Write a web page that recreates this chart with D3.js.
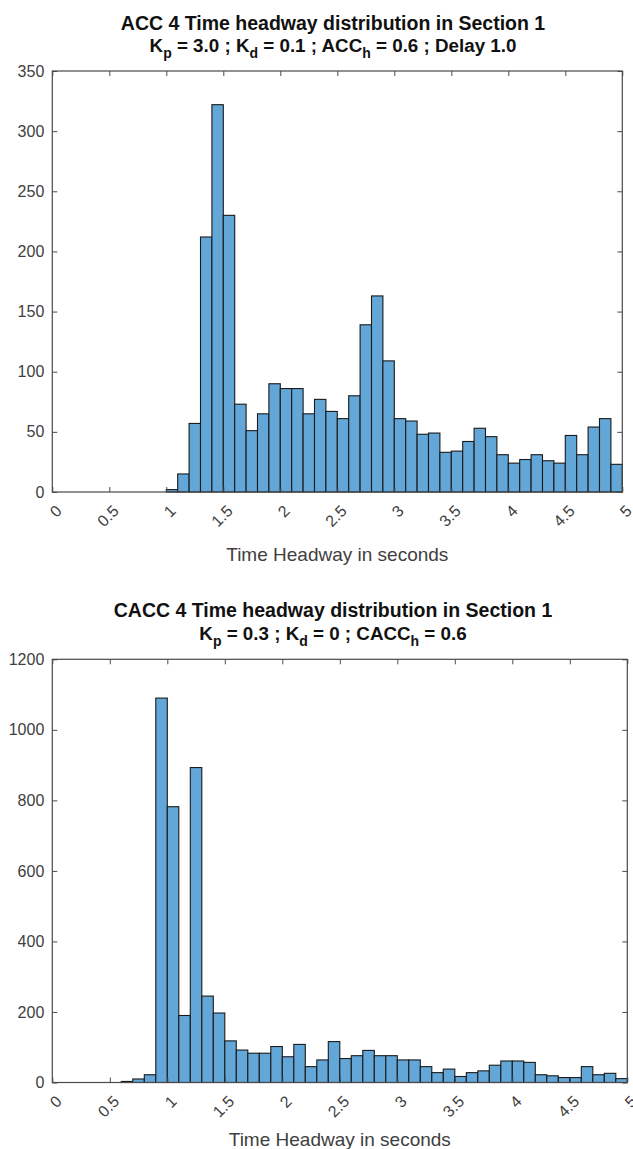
<!DOCTYPE html>
<html>
<head>
<meta charset="utf-8">
<script src="https://cdn.jsdelivr.net/npm/d3@7"></script>
<style>
  html, body { margin: 0; padding: 0; background: #fff; }
  svg { display: block; font-family: "Liberation Sans", Arial, Helvetica, sans-serif; }
</style>
</head>
<body>
<svg id="chart" width="633" height="1149"></svg>
<script>
// ---------- data ----------
const accBinLefts = [1.0,1.1,1.2,1.3,1.4,1.5,1.6,1.7,1.8,1.9,2.0,2.1,2.2,2.3,2.4,2.5,2.6,2.7,2.8,2.9,
                     3.0,3.1,3.2,3.3,3.4,3.5,3.6,3.7,3.8,3.9,4.0,4.1,4.2,4.3,4.4,4.5,4.6,4.7,4.8,4.9];
const accCounts   = [2,15,57,212,322,230,73,51,65,90,86,86,65,77,67,61,80,139,163,109,
                     61,59,48,49,33,34,42,53,46,31,24,27,31,26,24,47,31,54,61,23];

const caccBinLefts = [0.5,0.6,0.7,0.8,0.9,1.0,1.1,1.2,1.3,1.4,1.5,1.6,1.7,1.8,1.9,2.0,2.1,2.2,2.3,2.4,
                      2.5,2.6,2.7,2.8,2.9,3.0,3.1,3.2,3.3,3.4,3.5,3.6,3.7,3.8,3.9,4.0,4.1,4.2,4.3,4.4,
                      4.5,4.6,4.7,4.8,4.9];
const caccCounts   = [0,3,10,22,1090,782,190,893,245,197,118,92,83,83,102,73,108,45,64,116,
                      68,76,91,76,76,64,64,45,28,38,17,28,33,49,61,61,57,22,19,14,
                      14,45,22,26,11];
const binWidth = 0.1;

const xTicks = [0,0.5,1,1.5,2,2.5,3,3.5,4,4.5,5];
const xTickLabels = ["0","0.5","1","1.5","2","2.5","3","3.5","4","4.5","5"];
const accYTicks = [0,50,100,150,200,250,300,350];
const caccYTicks = [0,200,400,600,800,1000,1200];
const xLabel = "Time Headway in seconds";

const accTitle1 = "ACC 4 Time headway distribution in Section 1";
const accTitle2 = [["K",""],["p","sub"],[" = 3.0 ; K",""],["d","sub"],[" = 0.1 ; ACC",""],["h","sub"],[" = 0.6 ; Delay 1.0",""]];
const caccTitle1 = "CACC 4 Time headway distribution in Section 1";
const caccTitle2 = [["K",""],["p","sub"],[" = 0.3 ; K",""],["d","sub"],[" = 0 ; CACC",""],["h","sub"],[" = 0.6",""]];

// ---------- drawing ----------
const svg = d3.select("#chart");
const BAR_FILL = "#62a7d8";
const AXIS_COLOR = "#4a4a4a";
const TEXT_COLOR = "#404040";

function drawHist(cfg) {
  const g = svg.append("g");
  const x = d3.scaleLinear().domain([0, 5]).range([cfg.left, cfg.right]);
  const y = d3.scaleLinear().domain([0, cfg.yMax]).range([cfg.bottom, cfg.top]);

  // bars
  g.append("g").selectAll("rect")
    .data(cfg.lefts.map((l, i) => ({l, c: cfg.counts[i]})))
    .join("rect")
    .attr("x", d => x(d.l))
    .attr("width", d => x(d.l + binWidth) - x(d.l))
    .attr("y", d => y(d.c))
    .attr("height", d => y(0) - y(d.c))
    .attr("fill", BAR_FILL)
    .attr("stroke", "#1a1a1a")
    .attr("stroke-width", 1.1);

  // axes
  const fmt = (d) => xTickLabels[xTicks.indexOf(d)];
  const xb = g.append("g").attr("transform", `translate(0,${cfg.bottom})`)
    .call(d3.axisBottom(x).tickValues(xTicks).tickFormat(fmt).tickSizeInner(-5).tickSizeOuter(0));
  xb.selectAll(".tick text")
    .attr("x", 6).attr("y", 16).attr("dy", "0.35em")
    .attr("text-anchor", "end")
    .attr("transform", "rotate(-45,6,16)");

  const xt = g.append("g").attr("transform", `translate(0,${cfg.top})`)
    .call(d3.axisTop(x).tickValues(xTicks).tickFormat("").tickSizeInner(-5).tickSizeOuter(0));

  const yl = g.append("g").attr("transform", `translate(${cfg.left},0)`)
    .call(d3.axisLeft(y).tickValues(cfg.yTicks).tickFormat(d3.format("d")).tickSizeInner(-5).tickSizeOuter(0).tickPadding(8));
  const yr = g.append("g").attr("transform", `translate(${cfg.right},0)`)
    .call(d3.axisRight(y).tickValues(cfg.yTicks).tickFormat("").tickSizeInner(-5).tickSizeOuter(0));

  [xb, xt, yl, yr].forEach(a => {
    a.select(".domain").remove();
    a.selectAll(".tick line").attr("stroke", AXIS_COLOR).attr("stroke-width", 1);
    a.selectAll(".tick text").attr("fill", TEXT_COLOR).style("font-size", "16px")
      .style("font-family", '"Liberation Sans", Arial, sans-serif');
  });

  // box
  g.append("rect")
    .attr("x", cfg.left).attr("y", cfg.top)
    .attr("width", cfg.right - cfg.left).attr("height", cfg.bottom - cfg.top)
    .attr("fill", "none").attr("stroke", AXIS_COLOR).attr("stroke-width", 1.2);

  // x label
  g.append("text")
    .attr("x", (cfg.left + cfg.right) / 2).attr("y", cfg.xLabelY)
    .attr("text-anchor", "middle").attr("fill", TEXT_COLOR)
    .style("font-size", "19px")
    .text(xLabel);

  // title
  const cx = cfg.titleX;
  g.append("text")
    .attr("x", cx).attr("y", cfg.titleY1)
    .attr("text-anchor", "middle").attr("fill", "#111")
    .style("font-size", "19.5px").style("font-weight", "bold")
    .text(cfg.title1);
  const t2 = g.append("text")
    .attr("x", cx).attr("y", cfg.titleY2)
    .attr("text-anchor", "middle").attr("fill", "#111")
    .style("font-size", "18.8px").style("font-weight", "bold");
  let inSub = false;
  cfg.title2.forEach(([s, kind]) => {
    const ts = t2.append("tspan").text(s);
    if (kind === "sub") {
      ts.attr("dy", 6).style("font-size", "14px");
      inSub = true;
    } else if (inSub) {
      ts.attr("dy", -6);
      inSub = false;
    }
  });
}

drawHist({
  left: 52.3, right: 622.3, top: 71, bottom: 492, yMax: 350,
  lefts: accBinLefts, counts: accCounts, yTicks: accYTicks,
  title1: accTitle1, title2: accTitle2, titleX: 333,
  titleY1: 30, titleY2: 52, xLabelY: 561
});

drawHist({
  left: 52.3, right: 627.3, top: 659.3, bottom: 1082.5, yMax: 1200,
  lefts: caccBinLefts, counts: caccCounts, yTicks: caccYTicks,
  title1: caccTitle1, title2: caccTitle2, titleX: 333,
  titleY1: 617, titleY2: 640, xLabelY: 1146
});
</script>
</body>
</html>
